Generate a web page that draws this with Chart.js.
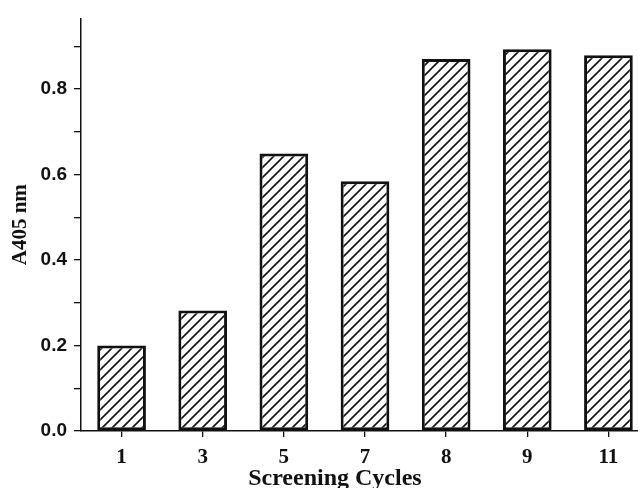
<!DOCTYPE html>
<html>
<head>
<meta charset="utf-8">
<script src="https://cdn.jsdelivr.net/npm/chart.js@4.4.1/dist/chart.umd.min.js"></script>
<style>
  html, body { margin: 0; padding: 0; background: #fff; overflow: hidden; }
  #wrap { width: 660px; height: 488px; }
</style>
</head>
<body>
<div id="wrap"><canvas id="chart" width="660" height="488"></canvas></div>
<script>
// Daten
const cycles = ['1', '3', '5', '7', '8', '9', '11'];
const absorbance = [0.200, 0.282, 0.649, 0.584, 0.870, 0.893, 0.879];
const yTicks = [0, 0.1, 0.2, 0.3, 0.4, 0.5, 0.6, 0.7, 0.8, 0.9];
const yLabeled = ['0.0', '0.2', '0.4', '0.6', '0.8'];
const yMax = 0.965;
const xTitle = 'Screening Cycles';
const yTitle = 'A405 nm';

// Schraffur-Muster fuer die Balken
function hatchPattern() {
    const c = document.createElement('canvas');
    c.width = 10;
    c.height = 10;
    const p = c.getContext('2d');
    p.fillStyle = '#fff';
    p.fillRect(0, 0, 10, 10);
    p.strokeStyle = '#111';
    p.lineWidth = 1.6;
    p.beginPath();
    p.moveTo(-2, 12); p.lineTo(12, -2);
    p.moveTo(-7, 7); p.lineTo(7, -7);
    p.moveTo(3, 17); p.lineTo(17, 3);
    p.stroke();
    return document.getElementById('chart').getContext('2d').createPattern(c, 'repeat');
}

// x-Achsentitel etwas links der Mitte, wie im Original
const xTitlePlugin = {
    id: 'xTitle',
    afterDraw(chart) {
        const { ctx, chartArea } = chart;
        ctx.save();
        ctx.font = 'bold 24px "Liberation Serif"';
        ctx.fillStyle = '#111';
        ctx.textAlign = 'center';
        ctx.textBaseline = 'alphabetic';
        const x = chartArea.left + (chartArea.right - chartArea.left) * 0.447;
        ctx.fillText(xTitle, x, chartArea.bottom + 54);
        ctx.restore();
    }
};

new Chart(document.getElementById('chart'), {
    type: 'bar',
    data: {
        labels: cycles,
        datasets: [{
            data: absorbance,
            backgroundColor: hatchPattern(),
            borderColor: '#111',
            borderWidth: 3,
            borderSkipped: false,
            barPercentage: 0.6,
            categoryPercentage: 1.0
        }]
    },
    options: {
        responsive: false,
        animation: false,
        layout: { padding: { top: 15, left: 0, right: 11, bottom: 0 } },
        plugins: {
            legend: { display: false },
            tooltip: { enabled: false }
        },
        scales: {
            x: {
                offset: true,
                grid: {
                    offset: false,
                    drawOnChartArea: false,
                    drawTicks: true,
                    tickLength: 6,
                    color: '#111',
                    lineWidth: 1.3
                },
                border: { display: true, color: '#111', width: 1.5 },
                ticks: {
                    color: '#111',
                    padding: 8,
                    font: { family: '"Liberation Serif"', weight: 'bold', size: 21 }
                },
                afterFit(scale) { scale.height = 57; }
            },
            y: {
                min: 0,
                max: yMax,
                afterBuildTicks(scale) {
                    scale.ticks = yTicks.map(v => ({ value: v }));
                },
                grid: {
                    drawOnChartArea: false,
                    drawTicks: true,
                    tickLength: 7,
                    color: '#111',
                    lineWidth: 1.3
                },
                border: { display: true, color: '#111', width: 1.5 },
                ticks: {
                    color: '#111',
                    padding: 7,
                    font: { family: '"Liberation Sans"', weight: 'bold', size: 19 },
                    callback(v) {
                        const s = v.toFixed(1);
                        return yLabeled.includes(s) ? s : '';
                    }
                },
                title: {
                    display: true,
                    text: yTitle,
                    color: '#111',
                    padding: { top: 10, bottom: 0 },
                    font: { family: '"Liberation Serif"', weight: 'bold', size: 21, lineHeight: 1 }
                },
                afterFit(scale) { scale.width = 81; }
            }
        }
    },
    plugins: [xTitlePlugin]
});
</script>
</body>
</html>
